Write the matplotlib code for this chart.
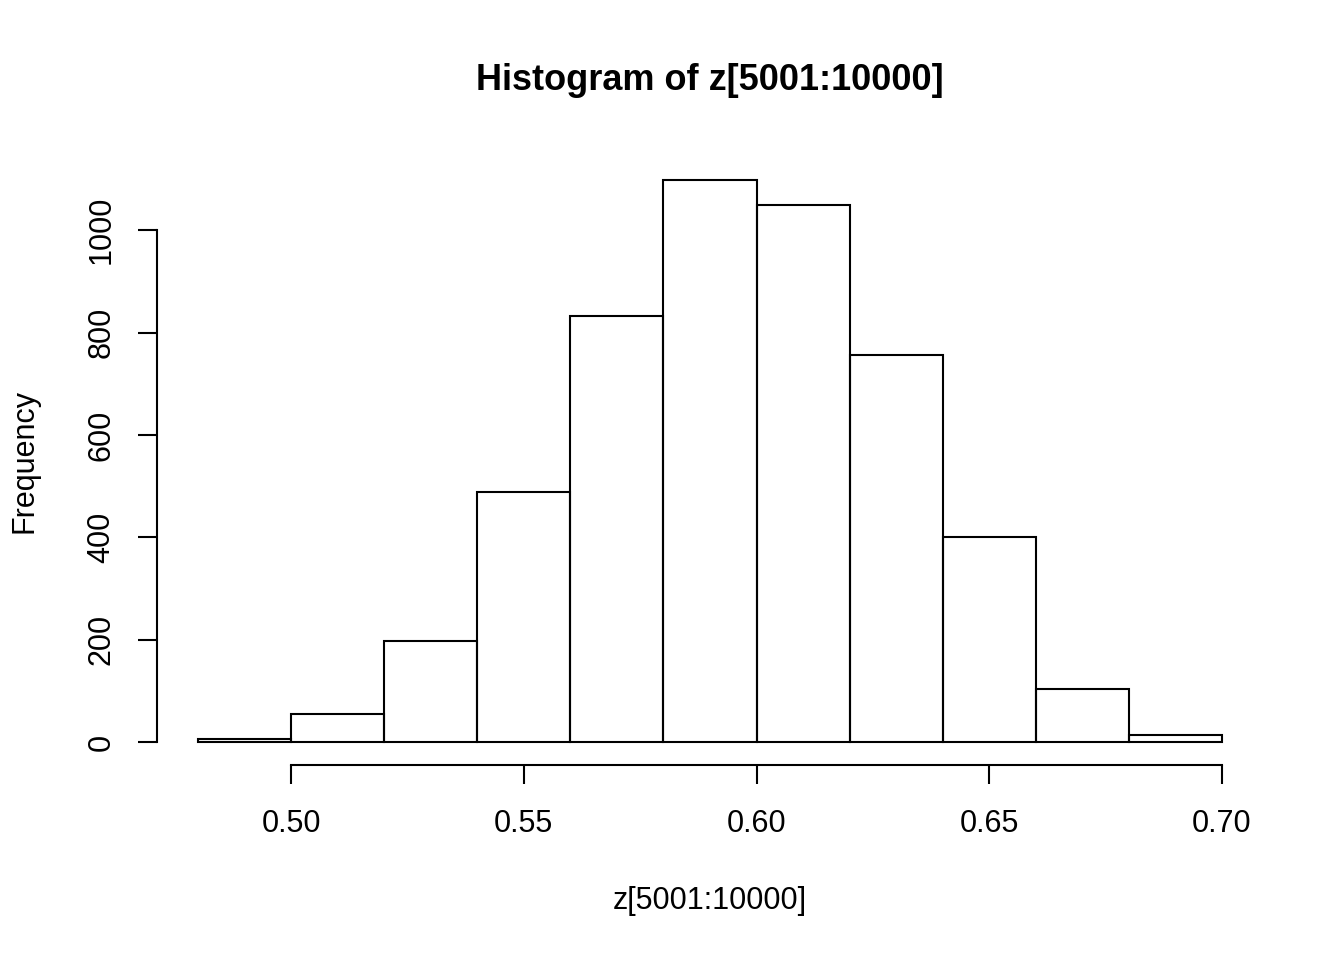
import numpy as np
import matplotlib.pyplot as plt

plt.rcParams['font.family'] = ['Liberation Sans', 'DejaVu Sans']

# histogram bins and counts
bin_edges = [0.48, 0.50, 0.52, 0.54, 0.56, 0.58, 0.60, 0.62, 0.64, 0.66, 0.68, 0.70]
counts = [6, 54, 198, 488, 833, 1097, 1050, 757, 400, 104, 13]
x_ticks = [0.50, 0.55, 0.60, 0.65, 0.70]
x_tick_labels = ["0.50", "0.55", "0.60", "0.65", "0.70"]
y_ticks = [0, 200, 400, 600, 800, 1000]

fig = plt.figure(figsize=(13.44, 9.6), dpi=100)
W, H = 1344, 960
left, right, top, bottom = 157, 1263, 158, 764.5
ax = fig.add_axes([left / W, 1 - bottom / H, (right - left) / W, (bottom - top) / H])

edges = np.array(bin_edges)
ax.bar(edges[:-1], counts, width=np.diff(edges), align='edge',
       fill=False, edgecolor='black', linewidth=1.5)

# R style axis range (4% padding)
xr = edges[-1] - edges[0]
ax.set_xlim(edges[0] - 0.04 * xr, edges[-1] + 0.04 * xr)
ymax = max(counts)
ax.set_ylim(-0.04 * ymax, ymax * 1.04)

for s in ['top', 'right']:
    ax.spines[s].set_visible(False)
ax.spines['left'].set_bounds(0, 1000)
ax.spines['bottom'].set_bounds(0.50, 0.70)
ax.spines['left'].set_linewidth(1.5)
ax.spines['bottom'].set_linewidth(1.5)

ax.set_xticks(x_ticks)
ax.set_xticklabels(x_tick_labels)
ax.set_yticks(y_ticks)
ax.set_yticklabels([str(v) for v in y_ticks], rotation=90, va='center')
ax.tick_params(axis='both', direction='out', length=14, width=1.5, labelsize=22)
ax.tick_params(axis='x', pad=18)
ax.tick_params(axis='y', pad=15)

fig.text(0.5 * (left + right) / W, 1 - 81 / H, "Histogram of z[5001:10000]",
         ha='center', va='center', fontsize=26, fontweight='bold')
fig.text(0.5 * (left + right) / W, 1 - 901 / H, "z[5001:10000]",
         ha='center', va='center', fontsize=22)
fig.text(25 / W, 1 - 0.5 * (top + bottom) / H, "Frequency",
         ha='center', va='center', fontsize=22, rotation=90)

fig.savefig("out.png", dpi=100)
